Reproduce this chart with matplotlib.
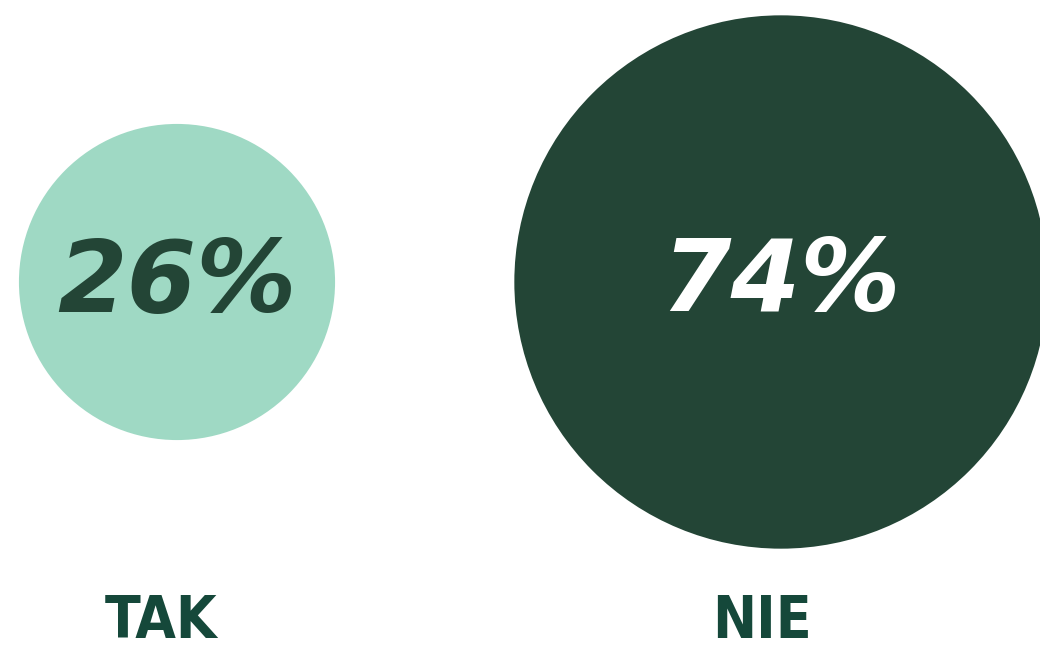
import numpy as np
import matplotlib
matplotlib.use("Agg")
import matplotlib.pyplot as plt
from matplotlib.patches import Circle

categories = ["TAK", "NIE"]
values = [26, 74]
value_labels = ["26%", "74%"]

fill_colors = ["#9fd9c4", "#234536"]
text_colors = ["#234536", "#ffffff"]
label_color = "#15483a"

centers_x = [177, 781]
center_y = 282
label_x = [161, 762]
scale = 31.0

fig = plt.figure(figsize=(10.4, 6.48), dpi=100)
ax = fig.add_axes([0, 0, 1, 1])
ax.set_xlim(0, 1040)
ax.set_ylim(648, 0)
ax.set_aspect("equal")
ax.axis("off")

for cx, v, fc, tc, vl, cat, lx in zip(centers_x, values, fill_colors, text_colors,
                                       value_labels, categories, label_x):
    r = scale * np.sqrt(v)
    ax.add_patch(Circle((cx, center_y), r, facecolor=fc, edgecolor="none"))
    ax.text(cx, center_y + 2, vl, ha="center", va="center", color=tc,
            fontsize=72, fontweight="bold", fontstyle="italic", family="DejaVu Sans")
    ax.text(lx, 621, cat, ha="center", va="center", color=label_color,
            fontsize=42, fontweight="bold", fontstretch="condensed", family="DejaVu Sans")

fig.savefig("out.png", dpi=100)
